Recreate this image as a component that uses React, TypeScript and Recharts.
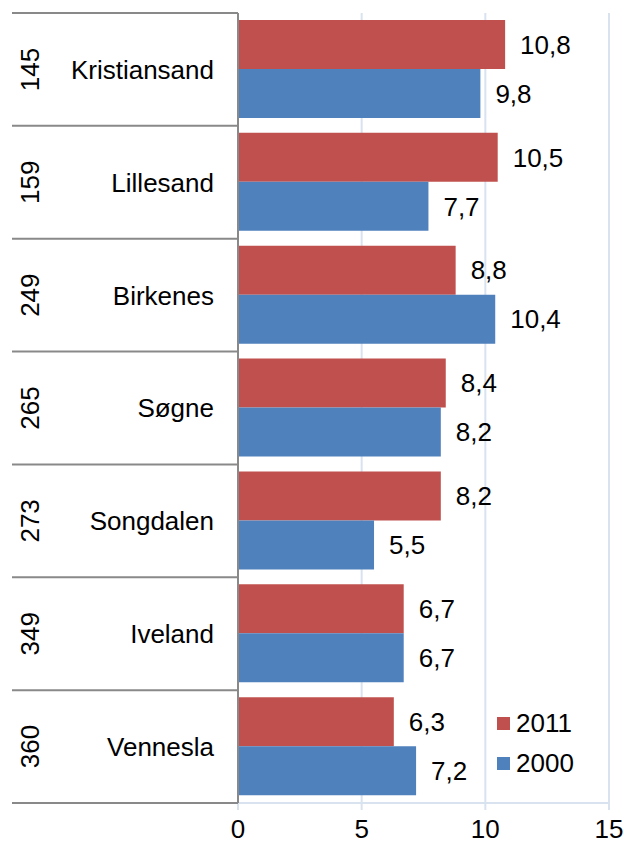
import { BarChart, Bar, XAxis, YAxis, CartesianGrid, LabelList } from 'recharts'

const towns = ['Kristiansand', 'Lillesand', 'Birkenes', 'Søgne', 'Songdalen', 'Iveland', 'Vennesla']
const ranks = ['145', '159', '249', '265', '273', '349', '360']
const values2011 = [10.8, 10.5, 8.8, 8.4, 8.2, 6.7, 6.3]
const values2000 = [9.8, 7.7, 10.4, 8.2, 5.5, 6.7, 7.2]
const xTicks = [0, 5, 10, 15]

const data = towns.map((town, i) => ({
  town,
  rank: ranks[i],
  y2011: values2011[i],
  y2000: values2000[i],
}))

const FONT = '"Liberation Sans", Arial, sans-serif'
const FS = 26
const GRID = '#D9E3F0'
const AXIS = '#898989'
const BAND = (803 - 13) / towns.length

const comma = (v: unknown) => String(v).replace('.', ',')

function TownTick(props: any) {
  const { y, payload, index } = props
  const i = index ?? payload.index
  return (
    <g>
      <line x1={12} x2={238} y1={y - BAND / 2} y2={y - BAND / 2} stroke={AXIS} strokeWidth={2} />
      {i === towns.length - 1 && (
        <line x1={12} x2={238} y1={y + BAND / 2} y2={y + BAND / 2} stroke={AXIS} strokeWidth={2} />
      )}
      <text x={214} y={y} dy="0.36em" textAnchor="end" fontSize={FS} fontFamily={FONT} fill="#000">
        {payload.value}
      </text>
      <text
        x={30}
        y={y}
        dy="0.36em"
        textAnchor="middle"
        fontSize={FS}
        fontFamily={FONT}
        fill="#000"
        transform={`rotate(-90 30 ${y})`}
      >
        {ranks[i]}
      </text>
    </g>
  )
}

const legendItems = [
  { label: '2011', color: '#C0504D' },
  { label: '2000', color: '#4F81BD' },
]

export default function App() {
  return (
    <div style={{ position: 'absolute', left: 0, top: 0, width: 624, height: 844, background: '#fff' }}>
      <BarChart
        width={624}
        height={844}
        data={data}
        layout="vertical"
        margin={{ top: 13, right: 15, bottom: 11, left: 0 }}
        barGap={0}
      >
        <CartesianGrid vertical horizontal={false} stroke={GRID} strokeWidth={2} />
        <XAxis
          type="number"
          domain={[0, 15]}
          ticks={xTicks}
          height={30}
          axisLine={{ stroke: GRID, strokeWidth: 2 }}
          tickLine={{ stroke: GRID, strokeWidth: 2 }}
          tickSize={7}
          tickMargin={10}
          tick={{ fontSize: FS, fontFamily: FONT, fill: '#000' }}
        />
        <YAxis
          type="category"
          dataKey="town"
          width={238}
          axisLine={{ stroke: AXIS, strokeWidth: 2 }}
          tickLine={false}
          tick={<TownTick />}
          interval={0}
        />
        <Bar dataKey="y2011" name="2011" fill="#C0504D" barSize={49} isAnimationActive={false}>
          <LabelList dataKey="y2011" position="right" offset={15} formatter={comma} fontSize={FS} fontFamily={FONT} fill="#000" />
        </Bar>
        <Bar dataKey="y2000" name="2000" fill="#4F81BD" barSize={49} isAnimationActive={false}>
          <LabelList dataKey="y2000" position="right" offset={15} formatter={comma} fontSize={FS} fontFamily={FONT} fill="#000" />
        </Bar>
      </BarChart>
      <div style={{ position: 'absolute', left: 497, top: 703, fontFamily: FONT, fontSize: FS, color: '#000' }}>
        {legendItems.map((it) => (
          <div key={it.label} style={{ display: 'flex', alignItems: 'center', height: 40 }}>
            <span style={{ width: 13, height: 13, background: it.color, marginRight: 6, display: 'inline-block' }} />
            <span>{it.label}</span>
          </div>
        ))}
      </div>
    </div>
  )
}
